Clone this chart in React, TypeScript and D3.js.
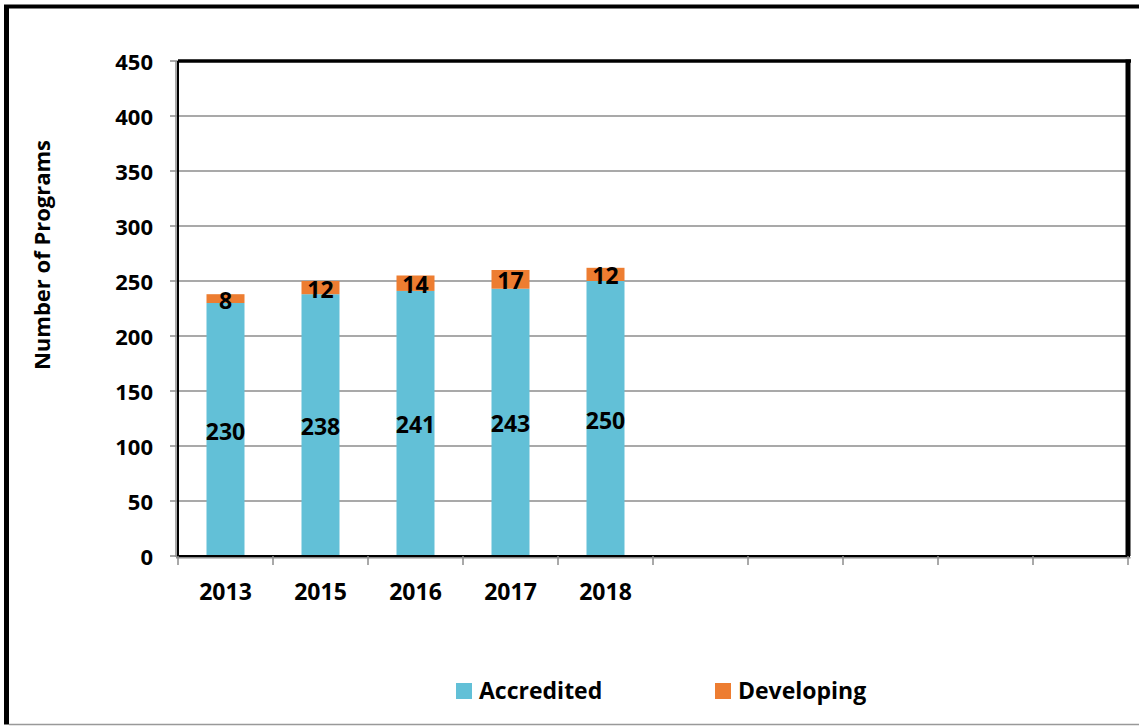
import React from "react";
import * as d3 from "d3";

const categories = ["2013", "2015", "2016", "2017", "2018"];
const slotCount = 10;
const accredited = [230, 238, 241, 243, 250];
const developing = [8, 12, 14, 17, 12];
const yTicks = [0, 50, 100, 150, 200, 250, 300, 350, 400, 450];
const seriesNames = ["Accredited", "Developing"];
const colors = ["#62C0D7", "#ED7D31"];

const W = 1139;
const H = 726;
const left = 178;
const right = 1128;
const top = 61;
const bottom = 556;
const FONT = "'Open Sans', Lato, sans-serif";
const FS = 23;

export default function App() {
  const x = d3
    .scaleBand<number>()
    .domain(d3.range(slotCount))
    .range([left, right])
    .paddingInner(0.6)
    .paddingOuter(0.3);
  const y = d3.scaleLinear().domain([0, 450]).range([bottom, top]);
  const step = x.step();
  const bw = x.bandwidth();
  const slotStart = (i: number) => (x(i) as number) - (step - bw) / 2;

  const stack = d3
    .stack<number>()
    .keys([0, 1] as any)
    .value((i: number, k: any) => (k === 0 ? accredited[i] : developing[i]));
  const series = stack(d3.range(categories.length) as any);

  return (
    <svg
      width={W}
      height={H}
      style={{ position: "absolute", left: 0, top: 0, display: "block" }}
      fontFamily={FONT}
    >
      <rect x={0} y={0} width={W} height={H} fill="#fff" />
      {/* outer frame */}
      <line x1={6.5} y1={6.5} x2={6.5} y2={724.5} stroke="#000" strokeWidth={5} />
      <line x1={4} y1={6.5} x2={W} y2={6.5} stroke="#000" strokeWidth={4} />
      <line x1={9} y1={724.5} x2={W} y2={724.5} stroke="#999" strokeWidth={1.5} />

      {/* gridlines */}
      {yTicks.map((t) => (
        <line
          key={"g" + t}
          x1={left}
          x2={right}
          y1={y(t)}
          y2={y(t)}
          stroke="#8c8c8c"
          strokeWidth={1.5}
        />
      ))}
      {/* y ticks */}
      {yTicks.map((t) => (
        <g key={"yt" + t}>
          <line x1={170} x2={left} y1={y(t)} y2={y(t)} stroke="#8c8c8c" strokeWidth={1.5} />
          <text
            x={153}
            y={y(t)}
            textAnchor="end"
            dominantBaseline="central"
            fontSize={22}
            fontWeight="bold"
            fill="#000"
          >
            {t}
          </text>
        </g>
      ))}

      {/* bars */}
      {series.map((s, si) =>
        s.map((d, i) => (
          <rect
            key={si + "-" + i}
            x={x(i) as number}
            y={y(d[1])}
            width={bw}
            height={y(d[0]) - y(d[1])}
            fill={colors[si]}
          />
        ))
      )}
      {/* data labels */}
      {series.map((s, si) =>
        s.map((d, i) => (
          <text
            key={"l" + si + "-" + i}
            x={(x(i) as number) + bw / 2}
            y={y((d[0] + d[1]) / 2) + 1}
            textAnchor="middle"
            dominantBaseline="central"
            fontSize={FS}
            fontWeight="bold"
            fill="#000"
          >
            {si === 0 ? accredited[i] : developing[i]}
          </text>
        ))
      )}

      {/* plot frame */}
      <line x1={left} x2={left} y1={top} y2={bottom + 1} stroke="#000" strokeWidth={2} />
      <line x1={left - 2} x2={left - 2} y1={top} y2={bottom + 1} stroke="#8c8c8c" strokeWidth={1.5} />
      <line x1={left} x2={right + 3} y1={top} y2={top} stroke="#000" strokeWidth={3.5} />
      <line x1={right} x2={right} y1={top - 1.5} y2={bottom} stroke="#000" strokeWidth={5} />
      <line x1={left} x2={right + 2} y1={bottom} y2={bottom} stroke="#000" strokeWidth={2} />
      <line x1={left - 2} x2={right + 2.5} y1={bottom + 1.8} y2={bottom + 1.8} stroke="#8c8c8c" strokeWidth={1.5} />

      {/* x ticks */}
      {d3.range(slotCount + 1).map((i) => {
        const xx = i < slotCount ? slotStart(i) : right;
        return (
          <line
            key={"xt" + i}
            x1={xx}
            x2={xx}
            y1={bottom}
            y2={bottom + 9}
            stroke="#8c8c8c"
            strokeWidth={1.5}
          />
        );
      })}
      {categories.map((c, i) => (
        <text
          key={"xl" + i}
          x={(x(i) as number) + bw / 2}
          y={591}
          textAnchor="middle"
          dominantBaseline="central"
          fontSize={FS}
          fontWeight="bold"
          fill="#000"
        >
          {c}
        </text>
      ))}

      {/* y axis title */}
      <text
        transform={`translate(41,255) rotate(-90)`}
        textAnchor="middle"
        dominantBaseline="central"
        fontSize={22}
        fontWeight="bold"
        fill="#000"
      >
        Number of Programs
      </text>

      {/* legend */}
      {seriesNames.map((n, i) => {
        const lx = i === 0 ? 456 : 715;
        return (
          <g key={"lg" + i}>
            <rect x={lx} y={683} width={16} height={16} fill={colors[i]} />
            <text
              x={lx + 23}
              y={690}
              dominantBaseline="central"
              fontSize={FS}
              fontWeight="bold"
              fill="#000"
            >
              {n}
            </text>
          </g>
        );
      })}
    </svg>
  );
}
